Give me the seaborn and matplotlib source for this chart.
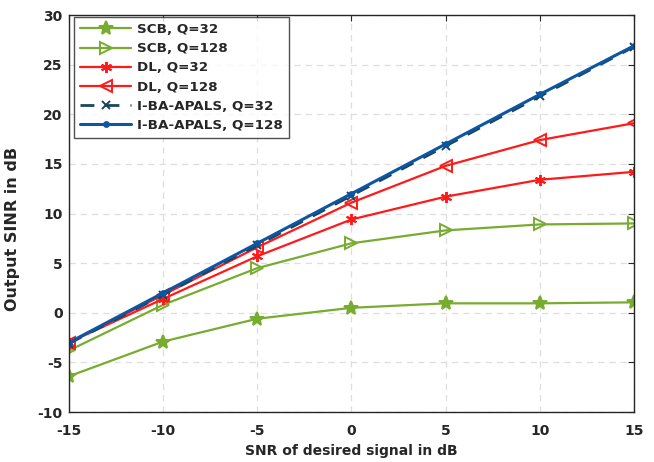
import numpy as np
import pandas as pd
import matplotlib
matplotlib.use("Agg")
import matplotlib.pyplot as plt
import seaborn as sns

snr = [-15, -10, -5, 0, 5, 10, 15]
scb_32 = [-6.4, -2.9, -0.6, 0.5, 0.95, 0.95, 1.05]
scb_128 = [-3.8, 0.8, 4.5, 7.0, 8.3, 8.9, 9.0]
dl_32 = [-3.0, 1.4, 5.7, 9.4, 11.7, 13.4, 14.2]
dl_128 = [-3.0, 1.8, 6.6, 11.1, 14.8, 17.4, 19.1]
iba_32 = [-3.1, 1.8, 6.8, 11.8, 16.8, 21.8, 26.8]
iba_128 = [-3.0, 2.0, 7.0, 12.0, 17.0, 22.0, 26.9]

labels = ["SCB, Q=32", "SCB, Q=128", "DL, Q=32", "DL, Q=128",
          "I-BA-APALS, Q=32", "I-BA-APALS, Q=128"]
series = [scb_32, scb_128, dl_32, dl_128, iba_32, iba_128]

df = pd.DataFrame({lab: vals for lab, vals in zip(labels, series)})
df["snr"] = snr
long = df.melt(id_vars="snr", var_name="method", value_name="sinr")

sns.set_style("white")
plt.rcParams['font.family'] = ['DejaVu Sans']
plt.rcParams['font.weight'] = 'bold'
plt.rcParams['axes.unicode_minus'] = False

green = "#77AC30"
red = "#FF1A1A"
teal = "#17475A"
blue = "#0C56A2"

palette = {labels[0]: green, labels[1]: green, labels[2]: red,
           labels[3]: red, labels[4]: teal, labels[5]: blue}
styles = {
    labels[0]: dict(marker="*", ms=10, mfc=green, ls="-", lw=1.6),
    labels[1]: dict(marker=">", ms=8, mfc="none", ls="-", lw=1.6),
    labels[2]: dict(marker=(6, 2, 0), ms=8, mfc=red, ls="-", lw=1.6),
    labels[3]: dict(marker="<", ms=8, mfc="none", ls="-", lw=1.6),
    labels[4]: dict(marker="x", ms=6, mfc=teal, ls=(0, (5, 4)), lw=2.0),
    labels[5]: dict(marker=".", ms=7, mfc=blue, ls="-", lw=2.2),
}

fig = plt.figure(figsize=(6.54, 4.62), dpi=100)
ax = fig.add_axes([0.1055, 0.1082, 0.8639, 0.8593])

for lab in labels:
    sub = long[long["method"] == lab]
    st = styles[lab]
    sns.lineplot(data=sub, x="snr", y="sinr", ax=ax, color=palette[lab],
                 label=lab, linewidth=st["lw"], marker=st["marker"],
                 markersize=st["ms"], markerfacecolor=st["mfc"],
                 markeredgecolor=palette[lab], markeredgewidth=1.4,
                 linestyle=st["ls"])

ax.set_xlim(-15, 15)
ax.set_ylim(-10, 30)
ax.set_xticks(range(-15, 16, 5))
ax.set_yticks(range(-10, 31, 5))
ax.grid(True, color="#dedede", linestyle=(0, (5, 4)), linewidth=0.9)
ax.tick_params(labelsize=10, direction="in", length=4, top=True, right=True,
               color="#262626")
ax.tick_params(axis="x", pad=8.5)
ax.tick_params(axis="y", pad=4.5)
for lab in ax.get_xticklabels() + ax.get_yticklabels():
    lab.set_fontweight("bold")
for sp in ax.spines.values():
    sp.set_color("#262626")
    sp.set_linewidth(1.0)
ax.set_xlabel("SNR of desired signal in dB", fontsize=10, fontweight="bold")
ax.set_ylabel("Output SINR in dB", fontsize=11.5, fontweight="bold")
ax.xaxis.set_label_coords(0.5, -0.080)
ax.yaxis.set_label_coords(-0.087, 0.46)

leg = ax.legend(loc="upper left", bbox_to_anchor=(0.009, 0.995),
                borderaxespad=0, frameon=True, fancybox=False,
                edgecolor="#262626", handlelength=3.8, borderpad=0.45,
                labelspacing=0.46, handletextpad=0.45,
                prop={"weight": "bold", "size": 9.7})
leg.get_frame().set_linewidth(1.0)

fig.savefig("out.png", dpi=100)
